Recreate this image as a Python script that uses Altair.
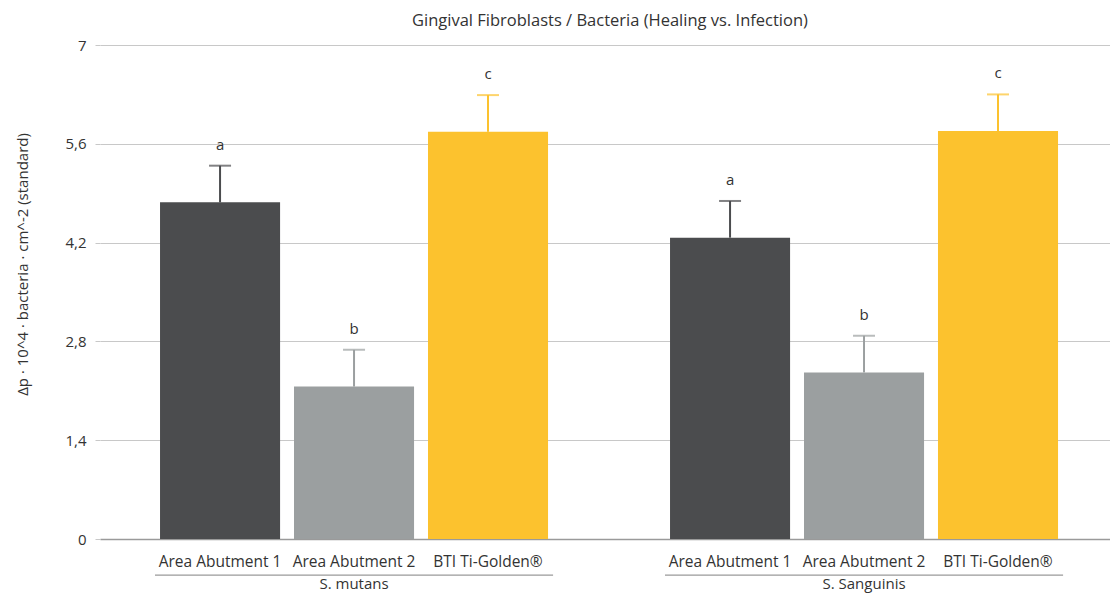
import altair as alt
import pandas as pd

groups = ["S. mutans", "S. Sanguinis"]
surfaces = ["Area Abutment 1", "Area Abutment 2", "BTI Ti-Golden®"]
mutans_values = [4.77, 2.16, 5.77]
mutans_errors = [0.52, 0.52, 0.52]
sanguinis_values = [4.27, 2.36, 5.78]
sanguinis_errors = [0.52, 0.52, 0.52]
letters = ["a", "b", "c"]
y_ticks = [0, 1.4, 2.8, 4.2, 5.6, 7]
bar_colors = ["#4b4c4e", "#9b9fa0", "#fcc22e"]

rows = []
for g, vals, errs in [(groups[0], mutans_values, mutans_errors),
                      (groups[1], sanguinis_values, sanguinis_errors)]:
    for s, v, e, l in zip(surfaces, vals, errs, letters):
        rows.append({"group": g, "surface": s, "value": v, "err": e, "letter": l})
df = pd.DataFrame(rows)
gdf = pd.DataFrame({"group": groups})

W, H = 1010, 494
FONT = "Open Sans"
TXT = "#333333"

x_enc = alt.X(
    "group:N",
    scale=alt.Scale(domain=groups, paddingInner=0.2392, paddingOuter=0.1098, align=0.536),
    axis=alt.Axis(title=None, labels=False, ticks=False, domainColor="#9a9a9a", domainWidth=1.5),
)
xoff = alt.XOffset("surface:N", scale=alt.Scale(domain=surfaces, paddingInner=0.104, paddingOuter=0))
color = alt.Color("surface:N", scale=alt.Scale(domain=surfaces, range=bar_colors), legend=None)

base = alt.Chart(df).transform_calculate(top="datum.value + datum.err")

bars = base.mark_bar().encode(
    x=x_enc,
    xOffset=xoff,
    y=alt.Y(
        "value:Q",
        scale=alt.Scale(domain=[0, 7], nice=False, zero=True),
        axis=alt.Axis(
            values=y_ticks,
            labelExpr="replace(format(datum.value, '~g'), '.', ',')",
            grid=True, gridColor="#c8c8c8", gridWidth=1,
            tickColor="#c8c8c8", tickSize=5, domain=False,
            labelPadding=9, labelFontSize=15, labelColor=TXT, labelFont=FONT,
            title="Δp · 10^4 · bacteria · cm^-2 (standard)",
            titleFont=FONT, titleFontSize=15, titleFontWeight="normal", titleColor=TXT,
            titleAngle=270, titleAlign="center", titleBaseline="middle",
            titleX=-78, titleY=219,
        ),
    ),
    color=color,
)

rules = base.mark_rule(strokeWidth=2).encode(
    x=x_enc, xOffset=xoff, y="value:Q", y2="top:Q", color=color
)
caps = base.mark_tick(thickness=2, size=22).encode(
    x=x_enc, xOffset=xoff, y="top:Q", color=color
)
letter_txt = base.mark_text(dy=-21, fontSize=15, font=FONT, color=TXT, baseline="middle").encode(
    x=x_enc, xOffset=xoff, y="top:Q", text="letter:N"
)
bar_labels = base.mark_text(fontSize=15.5, font=FONT, color=TXT, baseline="middle").encode(
    x=x_enc, xOffset=xoff, y=alt.value(H + 23), text="surface:N"
)
underline = alt.Chart(gdf).mark_bar(color="#9a9a9a", width=alt.RelativeBandSize(1.026)).encode(
    x=x_enc, y=alt.value(H + 35.5), y2=alt.value(H + 36.7)
)
group_labels = alt.Chart(gdf).mark_text(fontSize=15, font=FONT, color=TXT, baseline="middle").encode(
    x=x_enc, y=alt.value(H + 44.5), text="group:N"
)

chart = alt.layer(bars, rules, caps, letter_txt, bar_labels, underline, group_labels).properties(
    width=W, height=H,
    autosize=alt.AutoSizeParams(type="none"),
    padding={"left": 92, "top": 37, "right": 0, "bottom": 55},
    title=alt.TitleParams(
        "Gingival Fibroblasts / Bacteria (Healing vs. Infection)",
        font=FONT, fontSize=16.5, fontWeight="normal", color=TXT,
        anchor="middle", offset=9, dx=5,
    ),
).configure_view(stroke=None)

chart.save("out.html", embed_options={"renderer": "svg", "actions": False})
